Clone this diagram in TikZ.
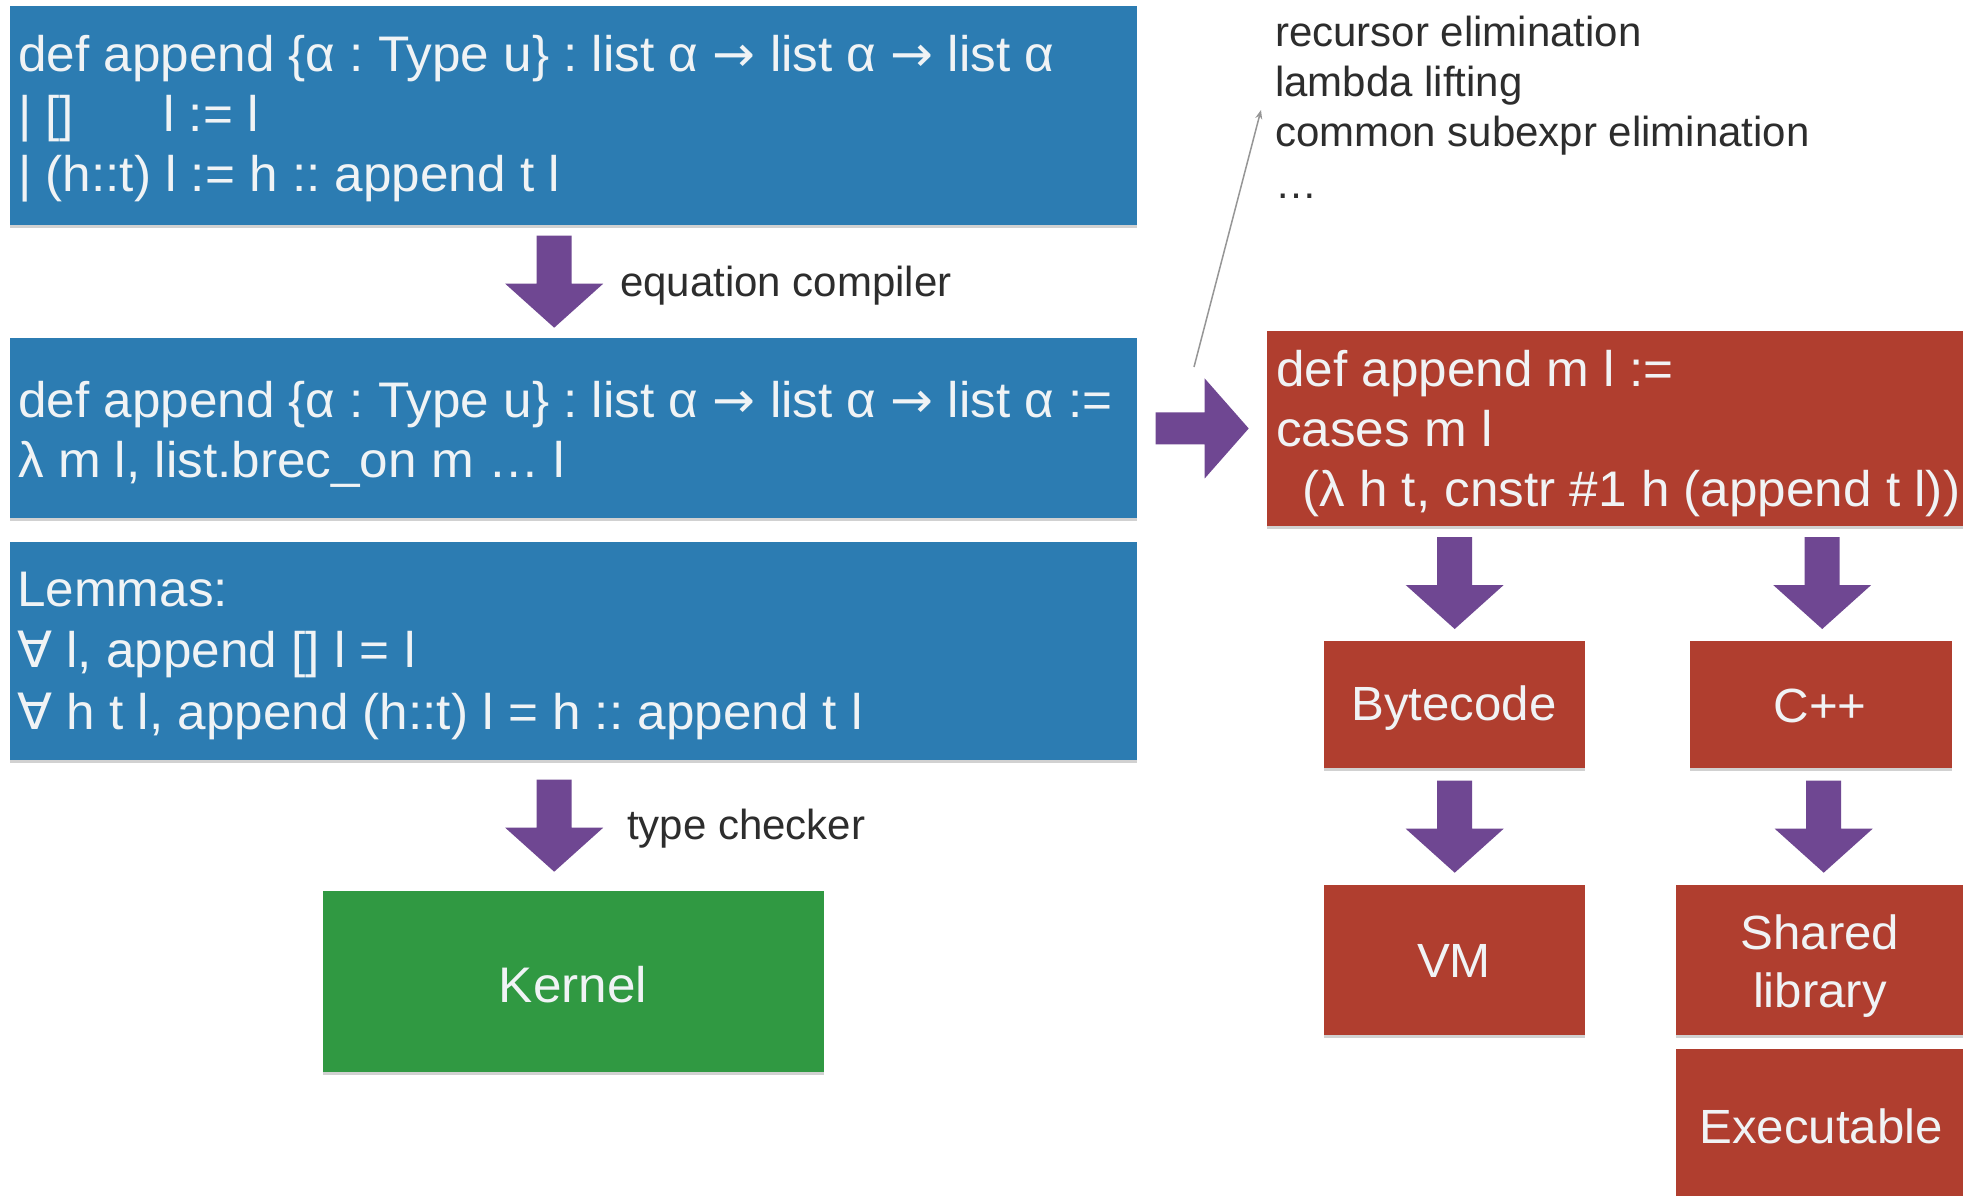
\documentclass[tikz,border=0pt]{standalone}
\usepackage{fontspec}
\setmainfont{Liberation Sans}
\newfontfamily\codef[FakeStretch=1.025]{Liberation Sans}
\newfontfamily\symf[FakeStretch=1.025]{DejaVu Sans}
\usetikzlibrary{calc,shadows,arrows.meta}
\definecolor{boxblue}{RGB}{44,124,178}
\definecolor{boxred}{RGB}{176,62,47}
\definecolor{boxgreen}{RGB}{48,153,66}
\definecolor{arrowpurple}{RGB}{111,71,146}
\definecolor{boxtext}{RGB}{240,243,245}
\definecolor{sidegray}{RGB}{45,45,45}
\definecolor{thingray}{RGB}{150,150,150}
\newcommand{\myarr}{{\symf →}}
\newcommand{\myall}{{\symf ∀}}
\frenchspacing
\tikzset{
  boxbase/.style={rectangle, inner sep=0pt, anchor=north west, draw=none,
    drop shadow={shadow xshift=0pt, shadow yshift=-3pt, opacity=0.18, fill=black}},
  bluebox/.style={boxbase, fill=boxblue},
  redbox/.style={boxbase, fill=boxred},
  greenbox/.style={boxbase, fill=boxgreen},
  codetext/.style={anchor=base west, inner sep=0pt, text=boxtext, font=\codef\fontsize{50}{60}\selectfont},
  labeltext/.style={anchor=base, inner sep=0pt, text=boxtext, font=\codef\fontsize{48}{58}\selectfont},
  sidetext/.style={anchor=base west, inner sep=0pt, text=sidegray, font=\fontsize{42}{50}\selectfont},
  thinarrow/.style={draw=thingray, line width=1.5pt, -{Stealth[length=9pt,width=7pt]}},
  pics/downarr/.style={code={\fill[arrowpurple] (-17.5,-46) -- (17.5,-46) -- (17.5,2) -- (49,2) -- (0,46) -- (-49,2) -- (-17.5,2) -- cycle;}},
  pics/rightarr/.style={code={\fill[arrowpurple] (-46.5,-16) -- (2.5,-16) -- (2.5,-50) -- (46.5,0) -- (2.5,50) -- (2.5,16) -- (-46.5,16) -- cycle;}},
}
\begin{document}
\begin{tikzpicture}[x=1pt,y=-1pt]
\fill[white] (0,0) rectangle (1963,1196);
\useasboundingbox (0,0) rectangle (1963,1196);

% boxes
\node[bluebox, minimum width=1127pt, minimum height=219pt] (blue1) at (10,6) {};
\node[bluebox, minimum width=1127pt, minimum height=180pt] (blue2) at (10,338) {};
\node[bluebox, minimum width=1127pt, minimum height=218pt] (blue3) at (10,542) {};
\node[greenbox, minimum width=501pt, minimum height=181pt] (kernel) at (323,891) {};
\node[redbox, minimum width=710pt, minimum height=195pt] (redmain) at (1267,331) {};
\node[redbox, minimum width=261pt, minimum height=127pt] (byte) at (1324,641) {};
\node[redbox, minimum width=262pt, minimum height=127pt] (cpp) at (1690,641) {};
\node[redbox, minimum width=261pt, minimum height=150pt] (vm) at (1324,885) {};
\node[redbox, minimum width=300pt, minimum height=150pt] (shared) at (1676,885) {};
\node[redbox, minimum width=300pt, minimum height=160pt] (exe) at (1676,1049) {};

% code text
\node[codetext] (b1a) at (18,72) {def append \{α : Type u\} : list α \myarr{} list α \myarr{} list α};
\node[codetext] (b1b) at (18,132) {\makebox[145pt][l]{| []}l := l};
\node[codetext] (b1c) at (18,192) {| (h::t) l := h :: append t l};

\node[codetext] (b2a) at (18,417) {def append \{α : Type u\} : list α \myarr{} list α \myarr{} list α :=};
\node[codetext] (b2b) at (18,477) {λ m l, list.brec\_on m … l};

\node[codetext] (b3a) at (17,606) {Lemmas:};
\node[codetext] (b3b) at (17,667) {\myall{} l, append [] l = l};
\node[codetext] (b3c) at (17,729) {\myall{} h t l, append (h::t) l = h :: append t l};

\node[codetext] (ra) at (1276,386) {def append m l :=};
\node[codetext] (rb) at (1276,446) {cases m l};
\node[codetext] (rc) at (1302,506) {(λ h t, cnstr \#1 h (append t l))};

% labels in boxes
\node[labeltext, font=\codef\fontsize{50}{60}\selectfont] (kernelt) at (573,1002) {Kernel};
\node[labeltext] (bytet) at (1454,720) {Bytecode};
\node[labeltext] (cppt) at (1820,722) {C++};
\node[labeltext] (vmt) at (1454,977) {VM};
\node[labeltext] (sharedt) at (1820,949) {Shared};
\node[labeltext] (libt) at (1820,1007) {library};
\node[labeltext] (exet) at (1821,1143) {Executable};

% side texts
\node[sidetext] (s1) at (1275,47) {recursor elimination};
\node[sidetext] (s2) at (1275,97) {lambda lifting};
\node[sidetext] (s3) at (1275,147) {common subexpr elimination};
\node[sidetext] (s4) at (1275,198) {…};
\node[sidetext] (eqc) at (620,296) {equation compiler};
\node[sidetext] (tyc) at (627,839) {type checker};

% block arrows
\pic (a1) at ([xshift=-19.5pt]$(blue1.south)!0.5!(blue2.north)$) {downarr};
\pic (a2) at ([xshift=-19.5pt]$(blue3.south)!0.5!(kernel.north)$) {downarr};
\pic (a3) at ($(blue2.east)!0.5!(redmain.west)$) {rightarr};
\pic (a4) at ($(byte.north)+(0,-58)$) {downarr};
\pic (a5) at ($(cpp.north)+(1,-58)$) {downarr};
\pic (a6) at ($(byte.south)!0.5!(vm.north)$) {downarr};
\pic (a7) at ($(cpp.south)!0.5!(shared.north)$) {downarr};

% thin arrow
\coordinate (gs) at (1194,367);
\coordinate (ge) at (1261,110);
\draw[thinarrow] (gs) -- (ge);
\end{tikzpicture}
\end{document}
